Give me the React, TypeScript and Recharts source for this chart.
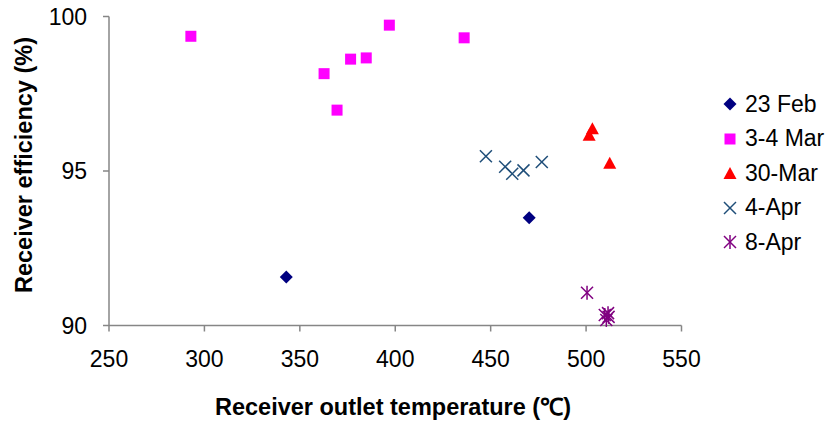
import React from 'react'
import {
  ScatterChart,
  Scatter,
  XAxis,
  YAxis,
  Legend,
} from 'recharts'

// measured series: receiver outlet temperature (°C) vs receiver efficiency (%)
const feb23 = [
  { x: 342.9, y: 91.57 },
  { x: 470.2, y: 93.49 },
]

const mar34 = [
  { x: 292.9, y: 99.36 },
  { x: 362.7, y: 98.15 },
  { x: 369.5, y: 96.97 },
  { x: 376.6, y: 98.62 },
  { x: 384.8, y: 98.66 },
  { x: 396.9, y: 99.72 },
  { x: 436.1, y: 99.31 },
]

const mar30 = [
  { x: 501.6, y: 96.17 },
  { x: 503.3, y: 96.38 },
  { x: 512.4, y: 95.27 },
]

const apr4 = [
  { x: 447.5, y: 95.48 },
  { x: 457.6, y: 95.14 },
  { x: 461.3, y: 94.91 },
  { x: 467.2, y: 95.02 },
  { x: 476.8, y: 95.29 },
]

const apr8 = [
  { x: 500.5, y: 91.06 },
  { x: 509.8, y: 90.34 },
  { x: 511.5, y: 90.4 },
  { x: 510.6, y: 90.18 },
  { x: 511.8, y: 90.28 },
]

const xTicks = [250, 300, 350, 400, 450, 500, 550]
const yTicks = [90, 95, 100]

type Kind = 'diamond' | 'square' | 'triangle' | 'x' | 'asterisk'

const SERIES: { name: string; data: { x: number; y: number }[]; kind: Kind; color: string }[] = [
  { name: '23 Feb', data: feb23, kind: 'diamond', color: '#000080' },
  { name: '3-4 Mar', data: mar34, kind: 'square', color: '#FF00FF' },
  { name: '30-Mar', data: mar30, kind: 'triangle', color: '#FF0000' },
  { name: '4-Apr', data: apr4, kind: 'x', color: '#1F4E79' },
  { name: '8-Apr', data: apr8, kind: 'asterisk', color: '#800080' },
]

const FONT = '"Liberation Sans", Arial, sans-serif'
const AXIS_COLOR = '#868686'

function Marker({ kind, color, cx, cy }: { kind: Kind; color: string; cx: number; cy: number }) {
  if (kind === 'diamond') {
    const r = 6.5
    return <polygon points={`${cx},${cy - r} ${cx + r},${cy} ${cx},${cy + r} ${cx - r},${cy}`} fill={color} />
  }
  if (kind === 'square') {
    const s = 11
    return <rect x={cx - s / 2} y={cy - s / 2} width={s} height={s} fill={color} />
  }
  if (kind === 'triangle') {
    const w = 13
    const h = 12
    return (
      <polygon
        points={`${cx},${cy - h / 2} ${cx + w / 2},${cy + h / 2} ${cx - w / 2},${cy + h / 2}`}
        fill={color}
      />
    )
  }
  const r = 6
  return (
    <g stroke={color} strokeWidth={1.5}>
      <line x1={cx - r} y1={cy - r} x2={cx + r} y2={cy + r} />
      <line x1={cx - r} y1={cy + r} x2={cx + r} y2={cy - r} />
      {kind === 'asterisk' && <line x1={cx} y1={cy - r - 1} x2={cx} y2={cy + r + 1} />}
    </g>
  )
}

const renderLegend = () => (
  <div style={{ fontFamily: FONT, fontSize: 23, color: '#000', whiteSpace: 'nowrap' }}>
    {SERIES.map((s) => (
      <div key={s.name} style={{ display: 'flex', alignItems: 'center', height: 34.5 }}>
        <svg width={16} height={20} style={{ marginRight: 7 }}>
          <Marker kind={s.kind} color={s.color} cx={8} cy={10} />
        </svg>
        <span>{s.name}</span>
      </div>
    ))}
  </div>
)

export default function App() {
  return (
    <div style={{ position: 'absolute', left: 0, top: 0, width: 828, height: 421, background: '#fff', overflow: 'hidden' }}>
      <ScatterChart
        width={828}
        height={421}
        margin={{ top: 16.5, right: 146.5, bottom: 55.5, left: 49 }}
      >
        <XAxis
          type="number"
          dataKey="x"
          domain={[250, 550]}
          ticks={xTicks}
          height={40}
          tickSize={6}
          tickMargin={19}
          stroke={AXIS_COLOR}
          strokeWidth={1.5}
          tick={{ fill: '#000', fontSize: 23, fontFamily: FONT }}
          label={{
            content: () => (
              <text
                x={393}
                y={415}
                textAnchor="middle"
                fontFamily={FONT}
                fontSize={23.5}
                fontWeight="bold"
                fill="#000"
              >
                Receiver outlet temperature (℃)
              </text>
            ),
          }}
        />
        <YAxis
          type="number"
          dataKey="y"
          domain={[90, 100]}
          ticks={yTicks}
          width={60}
          tickSize={6}
          tickMargin={16}
          stroke={AXIS_COLOR}
          strokeWidth={1.5}
          tick={{ fill: '#000', fontSize: 23, fontFamily: FONT }}
          label={{
            content: () => (
              <text
                x={0}
                y={0}
                transform="translate(32 165) rotate(-90)"
                textAnchor="middle"
                fontFamily={FONT}
                fontSize={23.5}
                fontWeight="bold"
                fill="#000"
              >
                Receiver efficiency (%)
              </text>
            ),
          }}
        />
        <Legend
          layout="vertical"
          align="center"
          verticalAlign="middle"
          content={renderLegend}
          wrapperStyle={{ left: 722, top: 87, width: 106 }}
        />
        {SERIES.map((s) => (
          <Scatter
            key={s.name}
            name={s.name}
            data={s.data}
            fill={s.color}
            isAnimationActive={false}
            shape={(p: any) => <Marker kind={s.kind} color={s.color} cx={p.cx} cy={p.cy} />}
          />
        ))}
      </ScatterChart>
    </div>
  )
}
